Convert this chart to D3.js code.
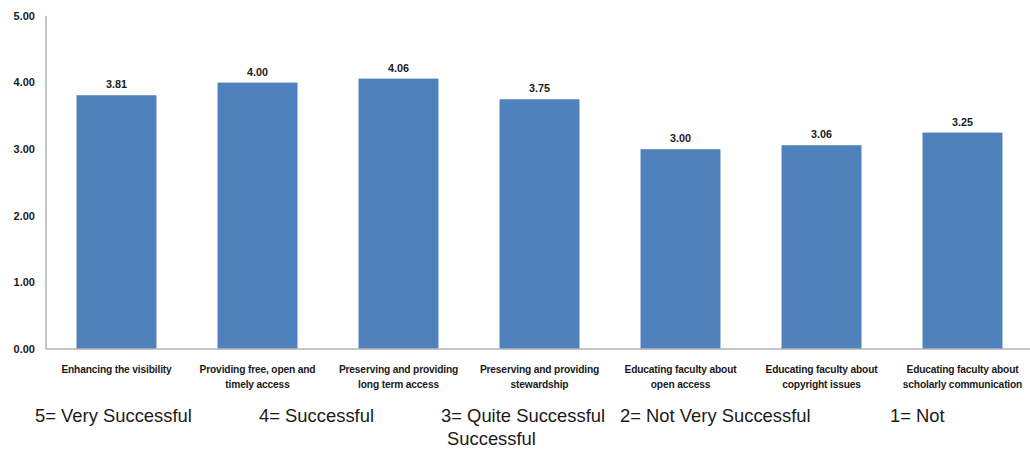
<!DOCTYPE html>
<html>
<head>
<meta charset="utf-8">
<script src="https://cdn.jsdelivr.net/npm/d3@7"></script>
<style>
  body { margin: 0; background: #fff; }
  text { font-family: "Liberation Sans", Arial, sans-serif; }
</style>
</head>
<body>
<div id="chart"></div>
<script>
// categories, split into the two lines shown under each bar
const categories = [
  ["Enhancing the visibility"],
  ["Providing free, open and", "timely access"],
  ["Preserving and providing", "long term access"],
  ["Preserving and providing", "stewardship"],
  ["Educating faculty about", "open access"],
  ["Educating faculty about", "copyright issues"],
  ["Educating faculty about", "scholarly communication"]
]
const scores = [3.81, 4.00, 4.06, 3.75, 3.00, 3.06, 3.25]
const yTicks = [0, 1, 2, 3, 4, 5]
const scaleNotes = [
  ["5= Very Successful"],
  ["4= Successful"],
  ["3= Quite Successful", "Successful"],
  ["2= Not Very Successful"],
  ["1= Not"]
]
const noteX = [35, 259, 441, 620, 890]

const width = 1030, height = 450
const margin = {left: 46, right: 1033, top: 16, bottom: 349}
const barColor = "#4f81bd"

const svg = d3.select("#chart")
  .append("svg")
    .attr("width", width)
    .attr("height", height)

const x = d3.scaleBand()
  .domain(d3.range(categories.length))
  .range([margin.left, margin.right])
  .paddingInner(0.433)
  .paddingOuter(0.2165)

const y = d3.scaleLinear()
  .domain([0, 5])
  .range([margin.bottom, margin.top])

// y tick labels (no tick marks in the original)
svg.append("g")
  .selectAll("text")
  .data(yTicks)
  .join("text")
    .attr("x", 35)
    .attr("y", d => y(d))
    .attr("dy", "0.35em")
    .attr("text-anchor", "end")
    .attr("font-size", 11)
    .attr("font-weight", "bold")
    .attr("fill", "#1a1a1a")
    .text(d => d.toFixed(2))

// bars
svg.selectAll("rect.bar")
  .data(scores)
  .join("rect")
    .attr("class", "bar")
    .attr("x", (d, i) => x(i))
    .attr("y", d => y(d))
    .attr("width", x.bandwidth())
    .attr("height", d => y(0) - y(d))
    .attr("fill", barColor)

// value labels
svg.selectAll("text.val")
  .data(scores)
  .join("text")
    .attr("class", "val")
    .attr("x", (d, i) => x(i) + x.bandwidth() / 2)
    .attr("y", d => y(d) - 7)
    .attr("text-anchor", "middle")
    .attr("font-size", 10.8)
    .attr("font-weight", "bold")
    .attr("fill", "#1a1a1a")
    .text(d => d.toFixed(2))

// axis lines
svg.append("line")
  .attr("x1", margin.left).attr("x2", margin.left)
  .attr("y1", margin.top).attr("y2", margin.bottom)
  .attr("stroke", "#b3b3b3").attr("stroke-width", 1.5)
svg.append("line")
  .attr("x1", margin.left).attr("x2", width)
  .attr("y1", margin.bottom).attr("y2", margin.bottom)
  .attr("stroke", "#b3b3b3").attr("stroke-width", 1.5)

// category labels
const cat = svg.append("g")
  .selectAll("text")
  .data(categories)
  .join("text")
    .attr("x", (d, i) => x(i) + x.bandwidth() / 2)
    .attr("y", 373)
    .attr("text-anchor", "middle")
    .attr("font-size", 10.2)
    .attr("font-weight", "bold")
    .attr("letter-spacing", -0.15)
    .attr("fill", "#1a1a1a")

cat.selectAll("tspan")
  .data(d => d)
  .join("tspan")
    .attr("x", function() { return this.parentNode.getAttribute("x") })
    .attr("dy", (d, i) => i == 0 ? 0 : 15)
    .text(d => d)

// rating scale notes under the chart
const notes = svg.append("g")
  .selectAll("text")
  .data(scaleNotes)
  .join("text")
    .attr("x", (d, i) => noteX[i])
    .attr("y", 422)
    .attr("font-size", 18.4)
    .attr("fill", "#1a1a1a")

notes.selectAll("tspan")
  .data(d => d)
  .join("tspan")
    .attr("x", function(d, i) { return +this.parentNode.getAttribute("x") + (i == 0 ? 0 : 6) })
    .attr("dy", (d, i) => i == 0 ? 0 : 23)
    .text(d => d)
</script>
</body>
</html>
